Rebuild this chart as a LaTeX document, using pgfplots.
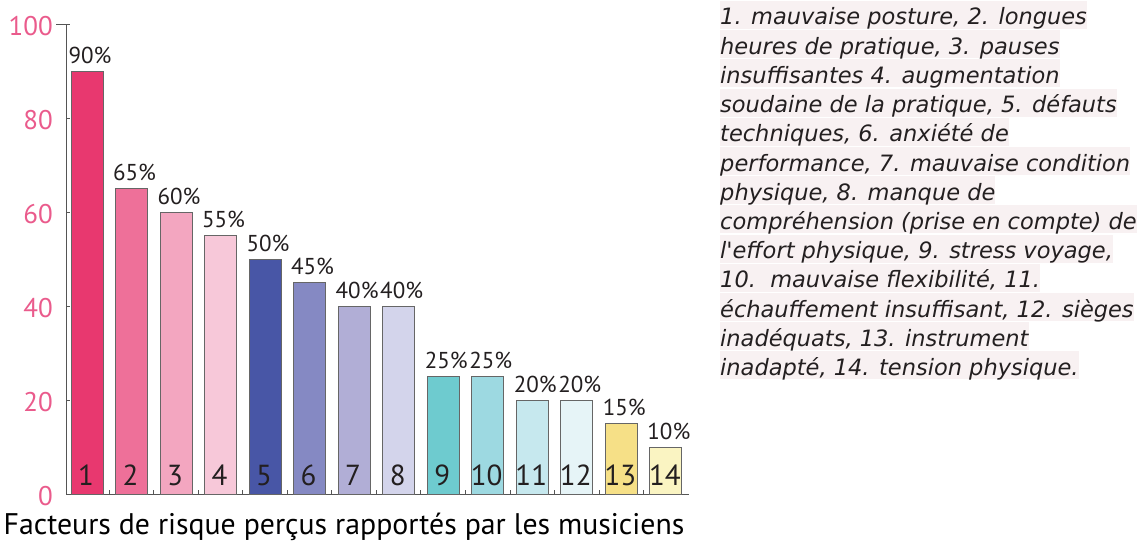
\documentclass[border=0pt]{standalone}
\usepackage{pgfplots}
\pgfplotsset{compat=1.18}
\usepackage{fontspec}
\setmainfont{PT Sans}
\newfontfamily\verd{DejaVu Sans}
\definecolor{c1}{HTML}{E8386F}
\definecolor{c2}{HTML}{EE7099}
\definecolor{c3}{HTML}{F3A6C0}
\definecolor{c4}{HTML}{F7C8D9}
\definecolor{c5}{HTML}{4856A6}
\definecolor{c6}{HTML}{8589C3}
\definecolor{c7}{HTML}{B1AED6}
\definecolor{c8}{HTML}{D3D4EB}
\definecolor{c9}{HTML}{6ECBCF}
\definecolor{c10}{HTML}{9DD9E1}
\definecolor{c11}{HTML}{C6E8EE}
\definecolor{c12}{HTML}{E6F4F7}
\definecolor{c13}{HTML}{F6E087}
\definecolor{c14}{HTML}{FAF4C2}
\definecolor{barline}{HTML}{666666}
\definecolor{axline}{HTML}{555555}
\definecolor{tickpink}{HTML}{EA5B8C}
\definecolor{txt}{HTML}{231F20}
\definecolor{hl}{HTML}{F8F1F2}
\begin{document}
\begin{tikzpicture}[x=1pt,y=1pt]
\path[use as bounding box] (0,0) rectangle (1147,542);
\begin{axis}[
  at={(66pt,48pt)}, anchor=south west,
  scale only axis, width=623pt, height=470pt,
  xmin=0.53, xmax=14.52, ymin=0, ymax=100,
  axis x line*=bottom, axis y line*=left,
  axis line style={draw=axline, line width=0.9pt},
  xtick={1.5,2.5,...,13.5}, xticklabels={},
  ytick={0,20,40,60,80,100},
  tick align=inside, major tick length=4pt,
  tick style={draw=axline, line width=0.9pt},
  yticklabel style={text=tickpink, font=\fontsize{27}{27}\selectfont, inner sep=0pt, xshift=-13pt, yshift=-2pt},
  /pgf/number format/assume math mode=true,
  clip=false,
  mybar/.style={ybar, bar width=32pt, bar shift=0pt, draw=barline, line width=0.8pt,
    nodes near coords={\pgfmathprintnumber{\pgfplotspointmeta}\%},
    every node near coord/.append style={font=\fontsize{23}{23}\selectfont, text=txt, inner sep=0pt, anchor=south, yshift=7pt, xshift=3pt}},
]
\draw[axline, line width=0.9pt] (axis cs:0.53,100) -- ++(14pt,0);
\addplot[mybar, fill=c1] coordinates {(1,90)};
\addplot[mybar, fill=c2] coordinates {(2,65)};
\addplot[mybar, fill=c3] coordinates {(3,60)};
\addplot[mybar, fill=c4] coordinates {(4,55)};
\addplot[mybar, fill=c5] coordinates {(5,50)};
\addplot[mybar, fill=c6] coordinates {(6,45)};
\addplot[mybar, fill=c7] coordinates {(7,40)};
\addplot[mybar, fill=c8] coordinates {(8,40)};
\addplot[mybar, fill=c9] coordinates {(9,25)};
\addplot[mybar, fill=c10] coordinates {(10,25)};
\addplot[mybar, fill=c11] coordinates {(11,20)};
\addplot[mybar, fill=c12] coordinates {(12,20)};
\addplot[mybar, fill=c13] coordinates {(13,15)};
\addplot[mybar, fill=c14] coordinates {(14,10)};
\addplot[draw=none, point meta=explicit symbolic,
  nodes near coords={\pgfplotspointmeta},
  every node near coord/.append style={font=\fontsize{29}{29}\selectfont, text=txt, inner sep=0pt, anchor=base, yshift=9pt, xshift=-1pt}]
  coordinates {(1,0)[1] (2,0)[2] (3,0)[3] (4,0)[4] (5,0)[5] (6,0)[6] (7,0)[7] (8,0)[8] (9,0)[9] (10,0)[10] (11,0)[11] (12,0)[12] (13,0)[13] (14,0)[14]};
\end{axis}
\node[anchor=base, font=\fontsize{29.8}{30}\selectfont, text=black, inner sep=0pt] at (344,8) {Facteurs de risque perçus rapportés par les musiciens};
\begin{scope}[every node/.style={anchor=base west, fill=hl, inner xsep=0pt, inner ysep=0pt, text height=24pt, text depth=4pt, font=\verd\itshape\fontsize{22.5}{22.5}\selectfont, text=txt}]
\node at (720,517) {1. mauvaise posture, 2. longues};
\node at (720,487.8) {heures de pratique, 3. pauses};
\node at (720,458.6) {insuffisantes 4. augmentation};
\node at (720,429.4) {soudaine de la pratique, 5. défauts};
\node at (720,400.2) {techniques, 6. anxiété de};
\node at (720,371) {performance, 7. mauvaise condition};
\node at (720,341.8) {physique, 8. manque de};
\node at (720,312.6) {compréhension (prise en compte) de};
\node at (720,283.4) {l'effort physique, 9. stress voyage,};
\node at (720,254.2) {10.\ \ mauvaise flexibilité, 11.};
\node at (720,225) {échauffement insuffisant, 12. sièges};
\node at (720,195.8) {inadéquats, 13. instrument};
\node at (720,166.6) {inadapté, 14. tension physique.};
\end{scope}
\end{tikzpicture}
\end{document}
